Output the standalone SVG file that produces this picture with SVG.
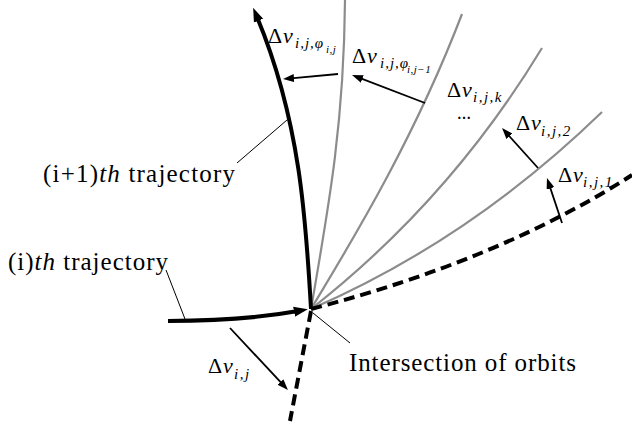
<svg xmlns="http://www.w3.org/2000/svg" width="632" height="423" viewBox="0 0 632 423">
<style>
.lbl{font-family:"Liberation Serif","Times New Roman",serif;font-size:25px;fill:#000}
.m{font-family:"Liberation Serif","Times New Roman",serif;fill:#000}
.d{font-size:22px}
.v{font-size:22px;font-style:italic}
.s{font-size:15px;font-style:italic}
.ss{font-size:11px;font-style:italic}
.thick{fill:none;stroke:#000;stroke-width:4}
.gray{fill:none;stroke:#8c8c8c;stroke-width:2.2}
.dash{fill:none;stroke:#000;stroke-width:4;stroke-dasharray:11 6}
.thin{fill:none;stroke:#000;stroke-width:1.8}
.lead{fill:none;stroke:#000;stroke-width:1}
</style>
<defs>
<marker id="ah" markerUnits="userSpaceOnUse" viewBox="0 0 14 12" markerWidth="14" markerHeight="12" refX="4" refY="6" orient="auto"><path d="M0,1 L14,6 L0,11 z" fill="#000"/></marker>
<marker id="as" markerUnits="userSpaceOnUse" viewBox="0 0 11 8" markerWidth="11" markerHeight="8" refX="3" refY="4" orient="auto"><path d="M0,0 L11,4 L0,8 z" fill="#000"/></marker>
</defs>
<g id="connectors">
<path id="gray1" class="gray" d="M311,309 C330,200 344,120 345,0"/>
<path id="gray2" class="gray" d="M311,309 C340,260 410,150 462,14"/>
<path id="gray3" class="gray" d="M311,309 Q450,200 542,48"/>
<path id="gray4" class="gray" d="M311,309 Q470,240 602,112"/>
<path id="dash-right" class="dash" d="M311,309 Q500,260 632,175"/>
<path id="dash-down" class="dash" d="M311,311 L290,421"/>
<path id="traj-i1" class="thick" d="M311,309 C306,220 300,120 257,17" marker-end="url(#ah)"/>
<path id="traj-i" class="thick" d="M168,321 C220,321 265,317 298,311" marker-end="url(#ah)"/>
<line class="thin" x1="230" y1="328" x2="282.5" y2="384.2" marker-end="url(#as)"/>
<line class="thin" x1="562" y1="223" x2="549.5" y2="185.6" marker-end="url(#as)"/>
<line class="thin" x1="538" y1="168" x2="507.4" y2="134" marker-end="url(#as)"/>
<line class="thin" x1="425" y1="103" x2="359.5" y2="77.9" marker-end="url(#as)"/>
<line class="thin" x1="338" y1="74" x2="291" y2="78.3" marker-end="url(#as)"/>
<line class="lead" x1="237" y1="163" x2="287" y2="120"/>
<line class="lead" x1="166" y1="270" x2="185" y2="319"/>
<line class="lead" x1="313" y1="313" x2="350" y2="343"/>
</g>
<g id="label-i1">
<text class="lbl" x="43" y="182" textLength="192" lengthAdjust="spacing">(i+1)<tspan font-style="italic">th</tspan> trajectory</text>
</g>
<g id="label-i">
<text class="lbl" x="8" y="270" textLength="160" lengthAdjust="spacing">(i)<tspan font-style="italic">th</tspan> trajectory</text>
</g>
<g id="label-intersection">
<text class="lbl" x="349" y="371" textLength="227" lengthAdjust="spacing">Intersection of orbits</text>
</g>
<g id="dv-phi">
<text class="m d" x="268" y="43">Δ</text><text class="m v" x="283" y="43">v</text>
<text class="m s" x="295" y="48" letter-spacing="1">i,j,φ</text><text class="m ss" x="326" y="53" letter-spacing="0.5">i,j</text>
</g>
<g id="dv-phi-1">
<text class="m d" x="352" y="63">Δ</text><text class="m v" x="367" y="63">v</text>
<text class="m s" x="380" y="68" letter-spacing="1">i,j,φ</text><text class="m ss" x="407" y="73" letter-spacing="0.5">i,j−1</text>
</g>
<g id="dv-k">
<text class="m d" x="447" y="97">Δ</text><text class="m v" x="462" y="97">v</text>
<text class="m s" x="473" y="102" letter-spacing="1.5">i,j,k</text>
<text class="m" x="457" y="119" font-size="14" font-weight="bold">…</text>
</g>
<g id="dv-2">
<text class="m d" x="516" y="130">Δ</text><text class="m v" x="531" y="130">v</text>
<text class="m s" x="541" y="136" letter-spacing="1.5">i,j,2</text>
</g>
<g id="dv-1">
<text class="m d" x="558" y="182">Δ</text><text class="m v" x="573" y="182">v</text>
<text class="m s" x="583" y="187" letter-spacing="1.5">i,j,1</text>
</g>
<g id="dv-ij">
<text class="m d" x="208" y="373">Δ</text><text class="m v" x="223" y="373">v</text>
<text class="m s" x="234" y="379" letter-spacing="1.5">i,j</text>
</g>
</svg>
